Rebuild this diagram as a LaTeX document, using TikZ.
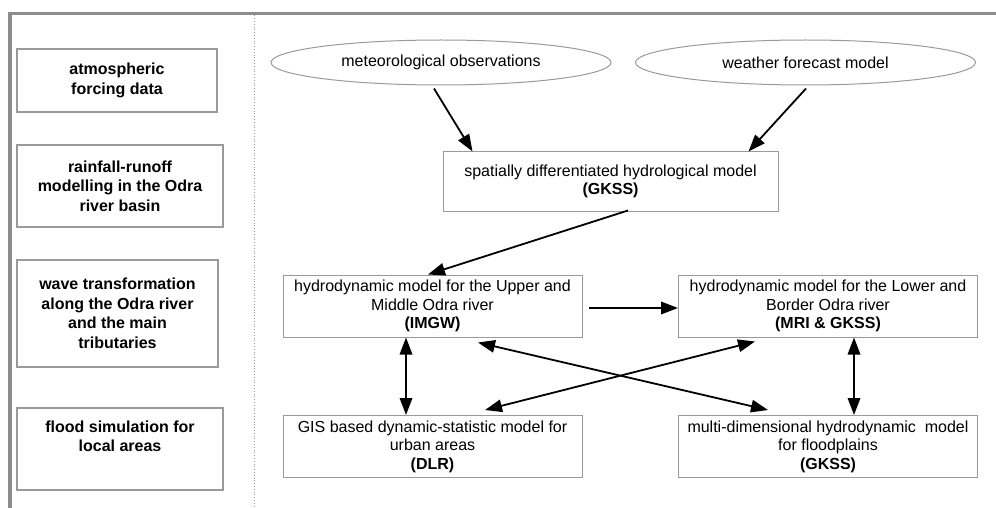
\documentclass[tikz,border=0pt]{standalone}
\usepackage{fontspec}
\setmainfont{Liberation Sans}
\usetikzlibrary{shapes.geometric,arrows.meta,calc}
\definecolor{framegray}{HTML}{8C8C8C}
\definecolor{boxgray}{HTML}{9A9A9A}
\tikzset{
  levelbox/.style={draw=boxgray, line width=1.3pt, rectangle, align=center,
    font=\fontsize{16}{19.5}\selectfont\bfseries, inner sep=0pt},
  modelbox/.style={draw=boxgray, line width=1pt, rectangle, align=center,
    font=\fontsize{16}{18.5}\selectfont, inner sep=0pt,
    minimum width=299pt, minimum height=62pt},
  source/.style={draw=boxgray, line width=1pt, ellipse, inner sep=0pt,
    font=\fontsize{16}{18.5}\selectfont,
    minimum width=340pt, minimum height=45pt},
  tip/.tip={Triangle[length=17pt,width=12.5pt]},
  flow/.style={line width=1.8pt, -tip},
  twoway/.style={line width=1.8pt, tip-tip}
}
\begin{document}
\begin{tikzpicture}[x=1pt,y=-1pt]
\useasboundingbox (0,0) rectangle (996,508);
% outer frame and column divider
\draw[framegray, line width=3.5pt] (10,508) -- (10,13.5) -- (996,13.5);
\draw[boxgray, line width=0.8pt, dotted] (254.3,15.5) -- (254.3,508);

% level labels
\node[levelbox, minimum width=200pt, minimum height=63pt] (l1) at (117,80.5)
  {atmospheric\\forcing data};
\node[levelbox, minimum width=206pt, minimum height=82pt] (l2) at (120,186)
  {rainfall-runoff\\modelling in the Odra\\river basin};
\node[levelbox, minimum width=201pt, minimum height=107pt] (l3) at (117.5,313.5)
  {wave transformation\\along the Odra river\\and the main\\tributaries};
\node[levelbox, minimum width=206pt, minimum height=82pt] (l4) at (120,449)
  {flood simulation for\\local areas\\\strut};

% data sources
\node[source] (obs) at (441,62.5) {meteorological observations};
\node[source] (wfm) at (805.5,62.5) {weather forecast model};

% models
\node[modelbox, minimum width=335pt, minimum height=59pt] (hyd) at (610.5,181.5)
  {spatially differentiated hydrological model\\\textbf{(GKSS)}};
\node[modelbox] (imgw) at (432.5,306) {hydrodynamic model for the Upper and\\Middle Odra river\\\textbf{(IMGW)}};
\node[modelbox] (mri) at (828,306) {hydrodynamic model for the Lower and\\Border Odra river\\\textbf{(MRI \& GKSS)}};
\node[modelbox] (gis) at (432.5,446.5) {GIS based dynamic-statistic model for\\urban areas\\\textbf{(DLR)}};
\node[modelbox] (multi) at (828,446.5) {multi-dimensional hydrodynamic\ \ model\\for floodplains\\\textbf{(GKSS)}};

% connectors
\draw[flow] ($(obs.south)+(-7,3)$) -- ($(hyd.north west)+(30,0)$);
\draw[flow] ($(wfm.south)+(0.5,3)$) -- ($(hyd.north east)+(-30,0)$);
\draw[flow] ($(hyd.south)+(17.5,-1)$) -- ($(imgw.north)+(-4.5,0)$);
\draw[flow] ($(imgw.east)+(6,2)$) -- ($(mri.west)+(0,2)$);
\draw[twoway] ($(imgw.south)+(-26.5,0)$) -- ($(gis.north)+(-26.5,0)$);
\draw[twoway] ($(mri.south)+(26,0)$) -- ($(multi.north)+(26,0)$);
\draw[twoway] ($(imgw.south)+(45.5,5)$) -- ($(multi.north)+(-60,-5)$);
\draw[twoway] ($(mri.south)+(-73,4)$) -- ($(gis.north)+(52.5,-5)$);
\end{tikzpicture}
\end{document}
